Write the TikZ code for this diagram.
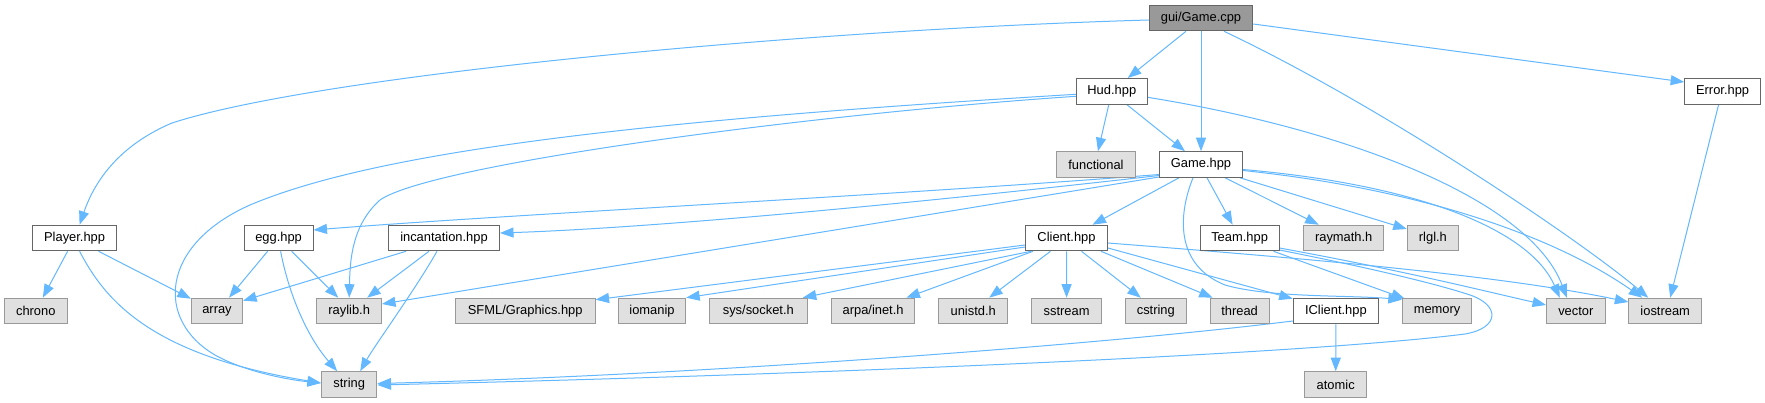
\documentclass[tikz,border=0pt]{standalone}
\usepackage{fontspec}
\setmainfont{Liberation Sans}
\usetikzlibrary{arrows.meta}
\definecolor{edgec}{HTML}{63B8FF}
\definecolor{extfill}{HTML}{E0E0E0}
\definecolor{extdraw}{HTML}{999999}
\definecolor{intdraw}{HTML}{666666}
\definecolor{rootfill}{HTML}{999999}
\pgfdeclarelayer{back}
\pgfdeclarelayer{bg}
\pgfsetlayers{back,bg,main}
\begin{document}
\begin{tikzpicture}[x=1pt,y=-1pt,
 box/.style={draw, line width=1pt, minimum height=25.6pt, inner sep=0pt, font=\fontsize{12.9}{15}\selectfont, text=black},
 int/.style={box, draw=intdraw, fill=white},
 ext/.style={box, draw=extdraw, fill=extfill},
 rootn/.style={box, draw=intdraw, fill=rootfill},
 edge/.style={draw=edgec, line width=1pt, -{Triangle[length=13.5pt,width=10pt]}}]
\begin{pgfonlayer}{back}
\fill[white] (0,0) rectangle (1765,403);
\end{pgfonlayer}
\useasboundingbox (0,0) rectangle (1765,403);
% row 1
\node[rootn, minimum width=103.5pt] (root) at (1201,18) {gui/Game.cpp};
% row 2
\node[int, minimum width=70.8pt] (Hud) at (1111.8,91.3) {Hud.hpp};
\node[int, minimum width=75.8pt] (Error) at (1722.6,91.3) {Error.hpp};
% row 3
\node[ext, minimum width=78.8pt] (functional) at (1096,164.5) {functional};
\node[int, minimum width=83pt] (Game) at (1201,164.5) {Game.hpp};
% row 4
\node[int, minimum width=84.2pt] (Player) at (74.6,238) {Player.hpp};
\node[int, minimum width=68.8pt] (egg) at (278.6,238) {egg.hpp};
\node[int, minimum width=111pt] (incant) at (444,238) {incantation.hpp};
\node[int, minimum width=82pt] (Client) at (1066.5,238) {Client.hpp};
\node[int, minimum width=78.8pt] (Team) at (1239.6,238) {Team.hpp};
\node[ext, minimum width=80.4pt] (raymath) at (1343.7,238) {raymath.h};
\node[ext, minimum width=51.3pt] (rlgl) at (1432.9,238) {rlgl.h};
% row 5
\node[ext, minimum width=62.4pt] (chrono) at (35.8,311) {chrono};
\node[ext, minimum width=51.2pt] (array) at (217,311) {array};
\node[ext, minimum width=64.6pt] (raylib) at (349.2,311) {raylib.h};
\node[ext, minimum width=139.7pt] (SFML) at (525.2,311) {SFML/Graphics.hpp};
\node[ext, minimum width=67.3pt] (iomanip) at (652,311) {iomanip};
\node[ext, minimum width=97.9pt] (socket) at (758.3,311) {sys/socket.h};
\node[ext, minimum width=83.5pt] (inet) at (873.1,311) {arpa/inet.h};
\node[ext, minimum width=68.5pt] (unistd) at (973.2,311) {unistd.h};
\node[ext, minimum width=70pt] (sstream) at (1066.6,311) {sstream};
\node[ext, minimum width=61.5pt] (cstring) at (1155.8,311) {cstring};
\node[ext, minimum width=58.8pt] (thread) at (1239.6,311) {thread};
\node[int, minimum width=85.3pt] (IClient) at (1335.9,311) {IClient.hpp};
\node[ext, minimum width=69.6pt] (memory) at (1437.1,311) {memory};
\node[ext, minimum width=58.5pt] (vector) at (1575.8,311) {vector};
\node[ext, minimum width=72.7pt] (iostream) at (1665.2,311) {iostream};
% row 6
\node[ext, minimum width=55.5pt] (string) at (349.2,384.5) {string};
\node[ext, minimum width=62pt] (atomic) at (1335.7,384.5) {atomic};

\begin{pgfonlayer}{bg}
% gui/Game.cpp
\draw[edge] ([yshift=-2pt]root.west) .. controls (800,30) and (320,75) .. (172,123) .. controls (120,145) and (95,180) .. ([xshift=5pt]Player.north);
\draw[edge] ([xshift=-15pt]root.south) -- ([xshift=16pt]Hud.north);
\draw[edge] (root.south) -- (Game.north);
\draw[edge] ([xshift=23pt]root.south) .. controls (1380,105) and (1580,240) .. ([xshift=-17pt]iostream.north);
\draw[edge] ([yshift=-6pt]root.east) -- ([yshift=-4pt]Error.north west);
% Hud.hpp
\draw[edge] ([xshift=-3pt]Hud.south) -- ([xshift=2pt]functional.north);
\draw[edge] ([xshift=15pt]Hud.south) -- ([xshift=-16pt]Game.north);
\draw[edge] ([yshift=-6pt]Hud.east) .. controls (1350,130) and (1530,200) .. ([xshift=-9pt]vector.north);
\draw[edge] ([yshift=-3pt]Hud.west) .. controls (650,120) and (380,150) .. (250,205) .. controls (160,245) and (155,320) .. (215,355) .. controls (245,372) and (290,380) .. ([yshift=1.5pt]string.west);
\draw[edge] ([yshift=-5pt]Hud.west) .. controls (800,115) and (430,165) .. (380,200) .. controls (352,225) and (350,260) .. (raylib.north);
% Game.hpp
\draw[edge] ([xshift=-22pt]Game.south) -- ([xshift=26pt]Client.north);
\draw[edge] ([xshift=6pt]Game.south) -- ([xshift=-7pt]Team.north);
\draw[edge] ([xshift=24pt]Game.south) -- ([xshift=-25pt]raymath.north);
\draw[edge] ([xshift=-3pt]Game.south east) -- ([yshift=9pt]rlgl.west);
\draw[edge] ([yshift=-5pt]Game.east) .. controls (1420,185) and (1530,230) .. ([xshift=-16pt]vector.north);
\draw[edge] ([yshift=-6pt]Game.east) .. controls (1430,190) and (1560,240) .. ([xshift=-23pt]iostream.north);
\draw[edge] ([yshift=-10pt]Game.west) .. controls (900,195) and (500,215) .. ([yshift=8pt]egg.east);
\draw[edge] ([yshift=-11pt]Game.west) .. controls (900,205) and (650,228) .. ([yshift=5pt]incant.east);
\draw[edge] ([yshift=-12.5pt]Game.west) -- ([yshift=7pt]raylib.east);
\draw[edge] ([xshift=-8pt]Game.south) .. controls (1178,215) and (1175,265) .. (1225,285) .. controls (1270,298) and (1350,295) .. ([yshift=-2pt]memory.north west);
% Client.hpp
\draw[edge] ([yshift=-7pt]Client.west) -- ([yshift=-2pt]SFML.north east);
\draw[edge] ([yshift=-9pt]Client.west) -- (iomanip.north east);
\draw[edge] ([xshift=6pt]Client.south west) -- ([xshift=-5pt]socket.north east);
\draw[edge] ([xshift=8pt]Client.south west) -- ([xshift=-9pt]inet.north east);
\draw[edge] ([xshift=-16pt]Client.south) -- ([xshift=16pt]unistd.north);
\draw[edge] (Client.south) -- (sstream.north);
\draw[edge] ([xshift=15pt]Client.south) -- ([xshift=-15pt]cstring.north);
\draw[edge] ([xshift=-7pt]Client.south east) -- ([xshift=3pt]thread.north west);
\draw[edge] ([yshift=-10pt]Client.east) -- ([yshift=-1pt]IClient.north west);
\draw[edge] ([yshift=-5pt]Client.east) .. controls (1300,258) and (1500,275) .. ([yshift=9pt]iostream.west);
% Team.hpp
\draw[edge] ([xshift=-6pt]Team.south east) -- ([xshift=3pt,yshift=-1pt]memory.north west);
\draw[edge] ([yshift=-10pt]Team.east) .. controls (1400,270) and (1480,290) .. ([yshift=6pt]vector.west);
\draw[edge] ([yshift=-12pt]Team.east) .. controls (1380,270) and (1440,285) .. (1470,295) .. controls (1500,305) and (1500,328) .. (1465,334) .. controls (1300,355) and (800,375) .. ([yshift=-0.5pt]string.east);
% IClient.hpp
\draw[edge] ([yshift=-10pt]IClient.west) .. controls (1100,345) and (700,375) .. ([yshift=1pt]string.east);
\draw[edge] (IClient.south) -- (atomic.north);
% Error.hpp
\draw[edge] ([xshift=-4pt]Error.south) -- ([xshift=5pt]iostream.north);
% Player.hpp
\draw[edge] ([xshift=-7pt]Player.south) -- ([xshift=7pt]chrono.north);
\draw[edge] ([xshift=24pt]Player.south) -- ([yshift=-1pt]array.north west);
\draw[edge] ([xshift=5pt]Player.south) .. controls (105,300) and (150,355) .. ([yshift=1.5pt]string.west);
% egg.hpp
\draw[edge] ([xshift=-11pt]egg.south) -- ([xshift=12pt]array.north);
\draw[edge] ([xshift=13pt]egg.south) -- ([xshift=-11pt]raylib.north);
\draw[edge] ([xshift=2pt]egg.south) .. controls (290,300) and (310,340) .. ([xshift=-12pt]string.north);
% incantation.hpp
\draw[edge] ([xshift=-38pt]incant.south) -- ([yshift=-3pt]array.north east);
\draw[edge] ([xshift=-15pt]incant.south) -- ([xshift=18pt]raylib.north);
\draw[edge] ([xshift=-7pt]incant.south) .. controls (415,290) and (375,345) .. ([xshift=11pt]string.north);
\end{pgfonlayer}
\end{tikzpicture}
\end{document}
